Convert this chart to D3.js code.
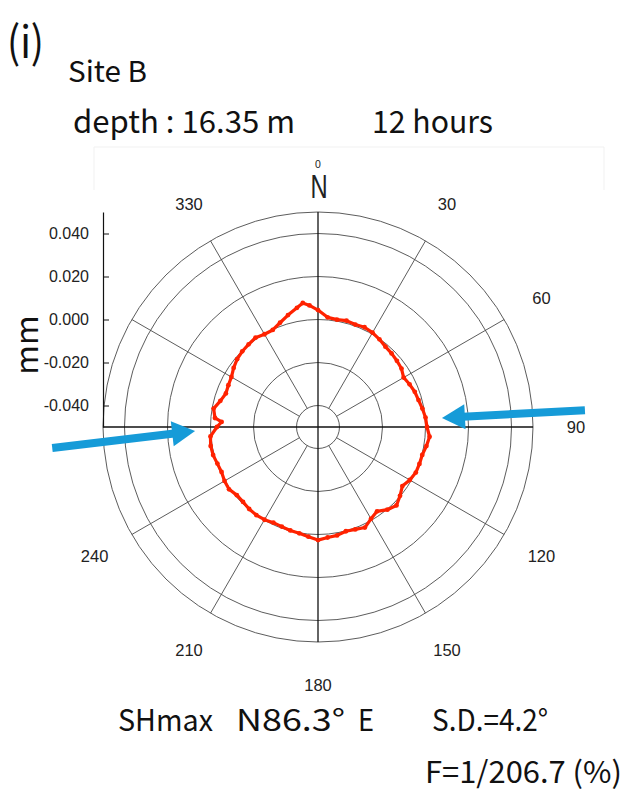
<!DOCTYPE html>
<html>
<head>
<meta charset="utf-8">
<script src="https://cdn.jsdelivr.net/npm/d3@7"></script>
<style>
  body { margin: 0; background: #fff; }
  svg { display: block; }
  .cap { font-family: "Noto Sans CJK JP", "Noto Sans", sans-serif; fill: #111; }
  .tick text, .ang { font-family: "Liberation Sans", Arial, sans-serif; fill: #222; }
</style>
</head>
<body>
<svg id="chart" width="626" height="794"></svg>
<script>
// compass bearing (deg) of each sample and the measured value (mm)
const bearings = [0, 5, 10, 15, 20, 25, 30, 35, 40, 45, 50, 55, 60, 65, 70, 75, 80, 85,
  90, 95, 100, 105, 110, 115, 120, 125, 130, 135, 140, 145, 150, 155, 160, 165, 170, 175,
  180, 185, 190, 195, 200, 205, 210, 215, 220, 225, 230, 235, 240, 245, 250, 255, 260, 265,
  270, 273, 275, 280, 285, 290, 295, 300, 305, 310, 315, 320, 325, 330, 335, 340, 345, 350, 353, 356];
const values = [0.0044, 0.0012, 0.0007, 0.0012, 0.0007, 0.0012, 0.0007, -0.0002, -0.0012, -0.0016, -0.0021, -0.0026, -0.0040, -0.0030, -0.0021, -0.0016, -0.0007, 0.0002,
  0.0007, 0.0021, 0.0012, 0.0002, 0.0002, 0.0002, -0.0007, -0.0021, -0.0002, 0.0016, 0.0002, -0.0021, -0.0007, 0.0016, 0.0007, 0.0002, 0.0012, 0.0016,
  0.0026, 0.0012, 0.0002, -0.0002, -0.0007, -0.0009, -0.0002, 0.0000, -0.0002, -0.0007, -0.0007, 0.0005, 0.0002, -0.0005, -0.0002, 0.0005, 0.0007, 0.0002,
  -0.0030, -0.0051, -0.0019, -0.0007, -0.0030, -0.0044, -0.0040, -0.0035, -0.0021, -0.0009, -0.0002, 0.0002, 0.0007, -0.0002, -0.0002, 0.0016, 0.0039, 0.0063, 0.0081, 0.0067];

const ringValues = [-0.04, -0.02, 0.0, 0.02, 0.04, 0.05];
const radialTicks = [-0.04, -0.02, 0.0, 0.02, 0.04];
const spokeAngles = [30, 60, 120, 150, 210, 240, 300, 330];
const crossAngles = [0, 90, 180, 270];
const angleLabels = ["30", "60", "90", "120", "150", "180", "210", "240", "330"];

// SHmax arrows: [bearing, value] of tail and tip
const arrows = [
  { tail: [265.5, 0.074], tip: [268.1, 0.0072] },
  { tail: [86.4, 0.0744], tip: [85.8, 0.0078] }
];

const svg = d3.select("#chart");
const cx = 318, cy = 427, R = 215;
const rScale = d3.scaleLinear().domain([-0.05, 0.05]).range([0, R]);
const rad = d => d * Math.PI / 180;
const pt = (deg, v) => [cx + rScale(v) * Math.sin(rad(deg)), cy - rScale(v) * Math.cos(rad(deg))];

// faint frame left over in the figure
svg.append("path")
  .attr("d", "M94,190V147H604V190")
  .attr("fill", "none").attr("stroke", "#f1f1f1").attr("stroke-width", 1);

const g = svg.append("g");

g.selectAll("circle.ring")
  .data(ringValues)
  .join("circle")
  .attr("class", "ring")
  .attr("cx", cx).attr("cy", cy)
  .attr("r", d => rScale(d))
  .attr("fill", "none").attr("stroke", "#4a4a4a").attr("stroke-width", 0.9);

g.selectAll("line.spoke")
  .data(spokeAngles)
  .join("line")
  .attr("class", "spoke")
  .attr("x1", d => pt(d, -0.04)[0]).attr("y1", d => pt(d, -0.04)[1])
  .attr("x2", d => pt(d, 0.05)[0]).attr("y2", d => pt(d, 0.05)[1])
  .attr("stroke", "#4a4a4a").attr("stroke-width", 0.9);

g.selectAll("line.cross")
  .data(crossAngles)
  .join("line")
  .attr("class", "cross")
  .attr("x1", cx).attr("y1", cy)
  .attr("x2", d => pt(d, 0.05)[0]).attr("y2", d => pt(d, 0.05)[1])
  .attr("stroke", "#111").attr("stroke-width", 1.3);

// radial axis on the left
const yScale = d3.scaleLinear().domain([-0.05, 0.05]).range([cy, cy - R]);
const yAxis = svg.append("g")
  .attr("transform", `translate(${cx - R},0)`)
  .call(d3.axisLeft(yScale).tickValues(radialTicks).tickFormat(d => d.toFixed(3))
    .tickSizeInner(-6).tickSizeOuter(0).tickPadding(14));
yAxis.select(".domain").attr("stroke", "#111").attr("stroke-width", 1.2);
yAxis.selectAll(".tick line").attr("stroke", "#111");
yAxis.selectAll(".tick text").attr("font-size", 16).attr("fill", "#222");

// angle labels
svg.selectAll("text.ang")
  .data(angleLabels)
  .join("text")
  .attr("class", "ang")
  .attr("x", d => cx + 258 * Math.sin(rad(+d)))
  .attr("y", d => cy - 258 * Math.cos(rad(+d)))
  .attr("text-anchor", "middle").attr("dy", "0.36em")
  .attr("font-size", 16.5)
  .text(d => d);

svg.append("text").attr("class", "ang")
  .attr("x", cx).attr("y", 168)
  .attr("text-anchor", "middle").attr("font-size", 10.5).attr("fill", "#555")
  .text("0");
svg.append("text").attr("class", "ang")
  .attr("x", cx + 1).attr("y", 198.5)
  .attr("text-anchor", "middle").attr("font-size", 33).attr("fill", "#000")
  .attr("transform", `translate(${cx + 1},0) scale(0.72,1) translate(${-(cx + 1)},0)`)
  .text("N");

// measured curve
const pts = bearings.map((b, i) => ({ b, v: values[i] }));
const line = d3.lineRadial()
  .angle(d => rad(d.b))
  .radius(d => rScale(d.v))
  .curve(d3.curveLinearClosed);

const curve = svg.append("g").attr("transform", `translate(${cx},${cy})`);
curve.append("path")
  .datum(pts)
  .attr("d", line)
  .attr("fill", "none").attr("stroke", "#ff2200").attr("stroke-width", 3.2).attr("stroke-linejoin", "round");
curve.selectAll("circle")
  .data(pts)
  .join("circle")
  .attr("cx", d => rScale(d.v) * Math.sin(rad(d.b)))
  .attr("cy", d => -rScale(d.v) * Math.cos(rad(d.b)))
  .attr("r", 2.4)
  .attr("fill", "#ff2200");

// SHmax arrows
const blue = "#169bd8";
arrows.forEach(a => {
  const [x0, y0] = pt(a.tail[0], a.tail[1]);
  const [x1, y1] = pt(a.tip[0], a.tip[1]);
  const ang = Math.atan2(y1 - y0, x1 - x0);
  const hl = 23, hw = 12.5;
  const bx = x1 - hl * Math.cos(ang), by = y1 - hl * Math.sin(ang);
  const nx = -Math.sin(ang), ny = Math.cos(ang);
  svg.append("line")
    .attr("x1", x0).attr("y1", y0).attr("x2", bx + 2 * Math.cos(ang)).attr("y2", by + 2 * Math.sin(ang))
    .attr("stroke", blue).attr("stroke-width", 8);
  svg.append("path")
    .attr("d", `M${x1},${y1}L${bx + hw * nx},${by + hw * ny}L${bx - hw * nx},${by - hw * ny}Z`)
    .attr("fill", blue);
});

// captions
const cap = (x, y, size, txt, len) => {
  const t = svg.append("text").attr("class", "cap")
    .attr("x", x).attr("y", y).attr("font-size", size).text(txt);
  if (len) t.attr("textLength", len).attr("lengthAdjust", "spacingAndGlyphs");
  return t;
};
cap(7, 58, 44, "(i)", 37);
cap(68, 82, 29, "Site B", 79);
cap(73, 133, 31, "depth : 16.35 m", 222);
cap(372, 133, 31, "12 hours", 121);
cap(118, 731, 30, "SHmax", 95);
cap(236, 731, 30, "N86.3°", 109);
cap(358, 731, 30, "E", 16);
cap(432, 731, 30, "S.D.=4.2°", 116);
cap(425, 783, 30, "F=1/206.7 (%)", 197);

svg.append("text").attr("class", "cap")
  .attr("transform", "translate(38,345) rotate(-90)")
  .attr("text-anchor", "middle").attr("font-size", 32)
  .text("mm");
</script>
</body>
</html>
